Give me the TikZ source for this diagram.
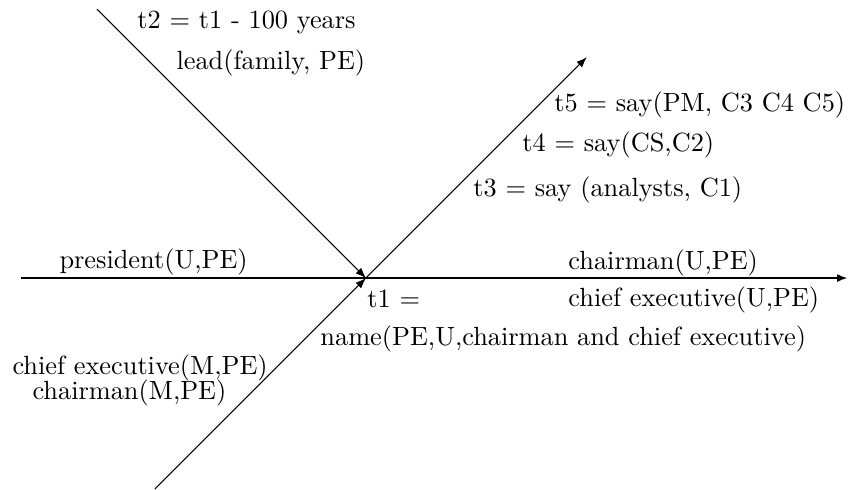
\documentclass[tikz,border=0pt]{standalone}
\usetikzlibrary{arrows.meta}
\tikzset{
  every picture/.style={line width=0.4pt},
  arrow/.style={-{Latex[length=4pt, width=3pt]}},
  timeline/.style={arrow, line width=0.8pt},
  lbl/.style={anchor=west, inner sep=0pt},
}
\begin{document}
\begin{tikzpicture}
  \useasboundingbox (0,0) rectangle (11.39,6.53);
  \coordinate (t1) at (4.886,2.817);
  \coordinate (past) at (0.28,2.817);
  \coordinate (future) at (11.32,2.817);
  \coordinate (t2) at (1.295,6.408);
  \coordinate (before) at (2.069,0);
  \coordinate (after) at (7.836,5.767);
  \draw[timeline] (past) -- (future);
  \draw[arrow] (t2) -- (t1);
  \draw[arrow] (before) -- (t1);
  \draw[arrow] (t1) -- (after);
  % labels
  \node[lbl] (t2def) at (1.829,6.234) {t2 = t1 - 100 years};
  \node[lbl] (lead) at (2.35,5.687) {lead(family, PE)};
  \node[lbl] (t5) at (7.396,5.126) {t5 = say(PM, C3 C4 C5)};
  \node[lbl] (t4) at (6.969,4.593) {t4 = say(CS,C2)};
  \node[lbl] (t3) at (6.315,3.992) {t3 = say (analysts, C1)};
  \node[lbl] (presU) at (0.788,3.03) {president(U,PE)};
  \node[lbl] (chairU) at (7.583,3.017) {chairman(U,PE)};
  \node[lbl] (t1def) at (4.899,2.537) {t1 =};
  \node[lbl] (ceoU) at (7.583,2.523) {chief executive(U,PE)};
  \node[lbl] (name) at (4.272,2.003) {name(PE,U,chairman and chief executive)};
  \node[lbl] (ceoM) at (0.16,1.615) {chief executive(M,PE)};
  \node[lbl] (chairM) at (0.427,1.282) {chairman(M,PE)};
\end{tikzpicture}
\end{document}
